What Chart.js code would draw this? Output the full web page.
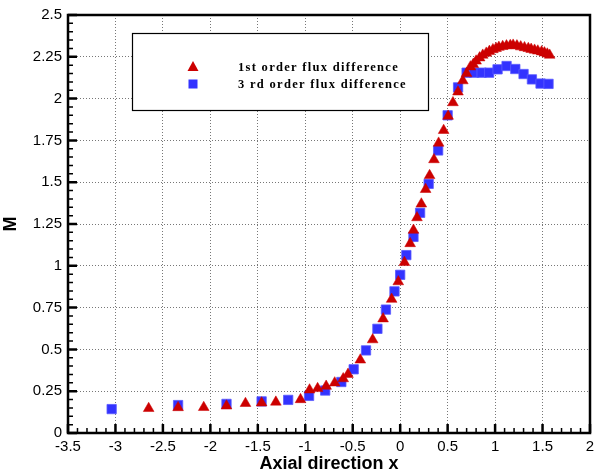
<!DOCTYPE html>
<html>
<head>
<meta charset="utf-8">
<script src="https://cdn.jsdelivr.net/npm/chart.js@4.4.1/dist/chart.umd.min.js"></script>
<style>
  html, body { margin: 0; padding: 0; background: #fff; }
  #wrap { width: 604px; height: 475px; }
</style>
</head>
<body>
<div id="wrap"><canvas id="machChart" width="604" height="475"></canvas></div>
<script>
// values
var firstOrderX = [-2.65, -2.34, -2.07, -1.83, -1.63, -1.46, -1.31, -1.05, -0.955, -0.87, -0.78, -0.69,
    -0.60, -0.55, -0.42, -0.29, -0.18, -0.09, -0.02, 0.045, 0.105, 0.14, 0.177, 0.223, 0.268, 0.31,
    0.356, 0.405, 0.458, 0.505, 0.556, 0.609, 0.66, 0.70, 0.74, 0.77, 0.80, 0.837, 0.87, 0.907, 0.94,
    0.977, 1.01, 1.04, 1.08, 1.12, 1.16, 1.19, 1.23, 1.27, 1.31, 1.35, 1.38, 1.416, 1.45, 1.49, 1.52,
    1.55, 1.575];
var firstOrderM = [0.147, 0.152, 0.153, 0.162, 0.177, 0.18, 0.185, 0.2, 0.258, 0.266, 0.28, 0.30,
    0.325, 0.351, 0.437, 0.558, 0.683, 0.80, 0.905, 1.02, 1.133, 1.213, 1.288, 1.37, 1.457, 1.54,
    1.635, 1.734, 1.81, 1.895, 1.976, 2.04, 2.107, 2.15, 2.19, 2.205, 2.225, 2.244, 2.26, 2.272, 2.283,
    2.293, 2.30, 2.307, 2.312, 2.316, 2.318, 2.32, 2.316, 2.31, 2.305, 2.30, 2.295, 2.29, 2.285, 2.28,
    2.274, 2.267, 2.26];

var thirdOrderX = [-3.04, -2.34, -1.83, -1.46, -1.18, -0.96, -0.79, -0.62, -0.49, -0.36, -0.24, -0.15,
    -0.06, 0.0, 0.065, 0.14, 0.21, 0.30, 0.40, 0.50, 0.61, 0.70, 0.779, 0.858, 0.937, 1.026, 1.121,
    1.213, 1.30, 1.388, 1.479, 1.563];
var thirdOrderM = [0.143, 0.167, 0.174, 0.189, 0.198, 0.222, 0.254, 0.305, 0.381, 0.494, 0.623, 0.738,
    0.847, 0.946, 1.064, 1.173, 1.317, 1.49, 1.69, 1.90, 2.067, 2.155, 2.155, 2.155, 2.155, 2.175, 2.195,
    2.177, 2.147, 2.115, 2.09, 2.088];

var seriesNames = ['1st order flux difference', '3 rd order flux difference'];
var xTicks = [-3.5, -3, -2.5, -2, -1.5, -1, -0.5, 0, 0.5, 1, 1.5, 2];
var yTicks = [0, 0.25, 0.5, 0.75, 1, 1.25, 1.5, 1.75, 2, 2.25, 2.5];

var red = '#cc0000';
var blue = '#3333ff';

function toPoints(xs, ys) {
    return xs.map(function (x, i) { return { x: x, y: ys[i] }; });
}

// frame, inward ticks and the boxed legend
var framePlugin = {
    id: 'frame',
    afterDraw: function (chart) {
        var ctx = chart.ctx;
        var a = chart.chartArea;
        var xs = chart.scales.x, ys = chart.scales.y;
        ctx.save();
        ctx.strokeStyle = '#000';
        ctx.lineCap = 'butt';

        // minor ticks
        ctx.lineWidth = 1.5;
        ctx.beginPath();
        for (var i = -35; i <= 20; i++) {
            if (i % 5 === 0) continue;
            var px = xs.getPixelForValue(i / 10);
            ctx.moveTo(px, a.bottom); ctx.lineTo(px, a.bottom - 5);
        }
        for (var j = 0; j <= 50; j++) {
            if (j % 5 === 0) continue;
            var py = ys.getPixelForValue(j / 20);
            ctx.moveTo(a.left, py); ctx.lineTo(a.left + 5, py);
        }
        ctx.stroke();

        // major ticks
        ctx.lineWidth = 2.5;
        ctx.beginPath();
        xTicks.forEach(function (v) {
            var px = xs.getPixelForValue(v);
            ctx.moveTo(px, a.bottom); ctx.lineTo(px, a.bottom - 9);
        });
        yTicks.forEach(function (v) {
            var py = ys.getPixelForValue(v);
            ctx.moveTo(a.left, py); ctx.lineTo(a.left + 9, py);
        });
        ctx.stroke();

        // border
        ctx.lineWidth = 2.5;
        ctx.strokeRect(a.left, a.top, a.right - a.left, a.bottom - a.top);

        // legend box
        ctx.fillStyle = '#fff';
        ctx.fillRect(132, 33, 296, 77);
        ctx.lineWidth = 1.2;
        ctx.strokeRect(132.5, 33.5, 296, 77);

        ctx.fillStyle = red;
        ctx.beginPath();
        ctx.moveTo(193, 61); ctx.lineTo(198.5, 71); ctx.lineTo(187.5, 71);
        ctx.closePath(); ctx.fill();
        ctx.fillStyle = blue;
        ctx.fillRect(188.5, 79.5, 9, 9);

        ctx.fillStyle = '#000';
        ctx.font = 'bold 12.5px "Liberation Serif"';
        ctx.letterSpacing = '1.3px';
        ctx.textBaseline = 'middle';
        ctx.fillText(seriesNames[0], 238, 68);
        ctx.fillText(seriesNames[1], 238, 85);
        ctx.restore();
    }
};

new Chart(document.getElementById('machChart').getContext('2d'), {
    type: 'scatter',
    data: {
        datasets: [{
            label: seriesNames[0],
            data: toPoints(firstOrderX, firstOrderM),
            pointStyle: 'triangle',
            pointRadius: 6.2,
            backgroundColor: red,
            borderColor: red,
            borderWidth: 0.5
        }, {
            label: seriesNames[1],
            data: toPoints(thirdOrderX, thirdOrderM),
            pointStyle: 'rect',
            pointRadius: 6.6,
            backgroundColor: blue,
            borderColor: '#5a5aff',
            borderWidth: 0.8
        }]
    },
    options: {
        responsive: false,
        animation: false,
        layout: { padding: { left: 0, right: 14, top: 13, bottom: 0 } },
        plugins: {
            legend: { display: false },
            tooltip: { enabled: false }
        },
        scales: {
            x: {
                type: 'linear',
                min: -3.5,
                max: 2,
                afterBuildTicks: function (s) { s.ticks = xTicks.map(function (v) { return { value: v }; }); },
                afterFit: function (s) { s.height = 42; },
                border: { display: false, dash: [1, 2] },
                grid: {
                    drawTicks: false,
                    color: function (c) { return (c.tick && (c.tick.value === -3.5 || c.tick.value === 2)) ? 'rgba(0,0,0,0)' : '#777'; },
                    lineWidth: 1
                },
                ticks: {
                    padding: 5,
                    maxRotation: 0,
                    color: '#000',
                    font: { family: '"Liberation Sans", Arial, sans-serif', size: 15 },
                    callback: function (v) { return String(v); }
                },
                title: {
                    display: true,
                    text: 'Axial direction x',
                    color: '#000',
                    padding: { top: 0, bottom: 0 },
                    font: { family: '"Liberation Sans", Arial, sans-serif', size: 18, weight: 'bold' }
                }
            },
            y: {
                type: 'linear',
                min: 0,
                max: 2.5,
                afterBuildTicks: function (s) { s.ticks = yTicks.map(function (v) { return { value: v }; }); },
                afterFit: function (s) { s.width = 68; },
                border: { display: false, dash: [1, 2] },
                grid: {
                    drawTicks: false,
                    color: function (c) { return (c.tick && (c.tick.value === 0 || c.tick.value === 2.5)) ? 'rgba(0,0,0,0)' : '#777'; },
                    lineWidth: 1
                },
                ticks: {
                    padding: 6,
                    color: '#000',
                    font: { family: '"Liberation Sans", Arial, sans-serif', size: 15 },
                    callback: function (v) { return String(v); }
                },
                title: {
                    display: true,
                    text: 'M',
                    color: '#000',
                    padding: { top: 0, bottom: 0 },
                    font: { family: '"Liberation Sans", Arial, sans-serif', size: 18, weight: 'bold' }
                }
            }
        }
    },
    plugins: [framePlugin]
});
</script>
</body>
</html>
